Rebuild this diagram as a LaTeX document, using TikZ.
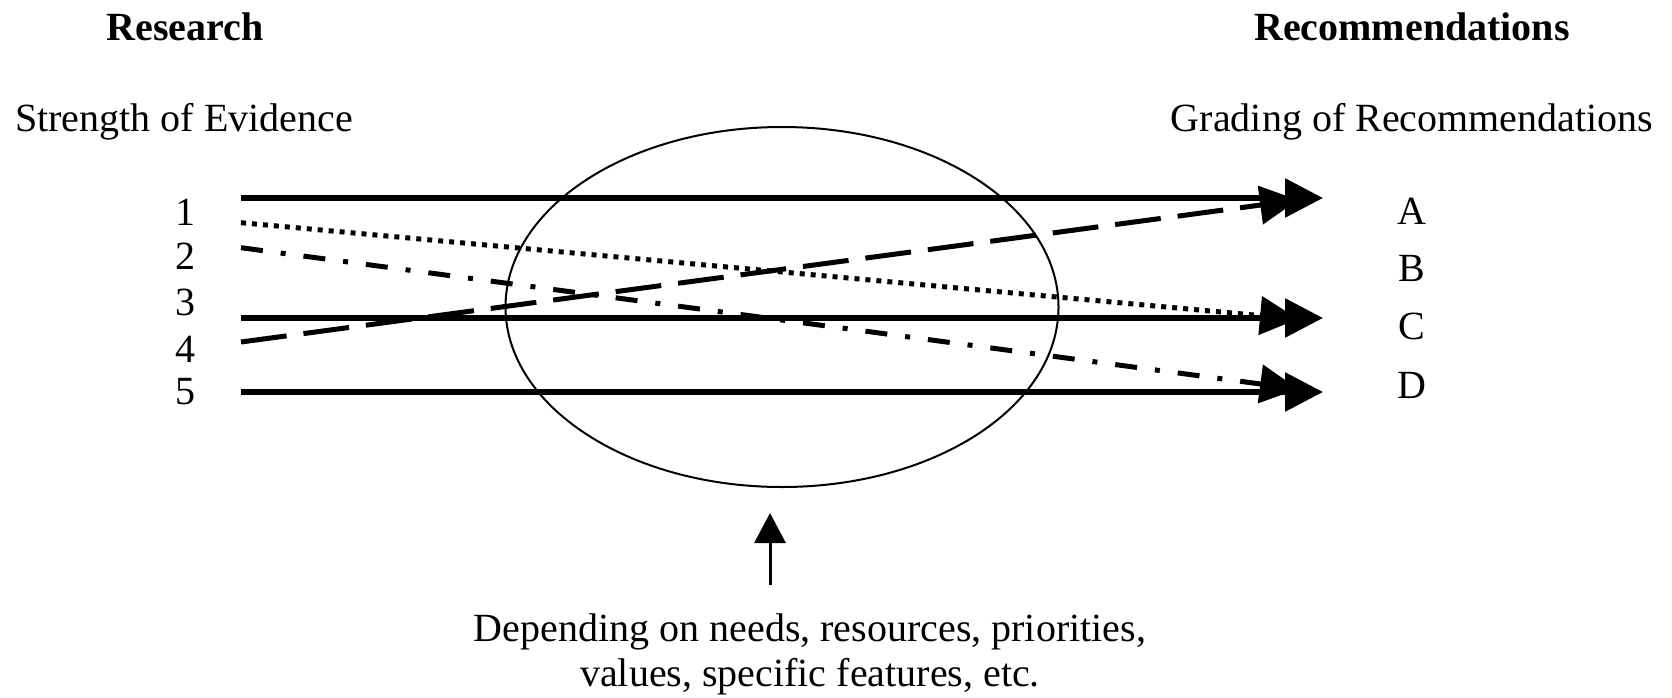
\documentclass[tikz,border=0pt]{standalone}
\usepackage{fontspec}
\setmainfont{Liberation Serif}
\usetikzlibrary{arrows.meta,shapes.geometric}
\tikzset{
  lbl/.style={font=\fontsize{40}{44.6}\selectfont, inner sep=0pt, anchor=base},
  hdr/.style={font=\fontsize{40}{45}\selectfont\bfseries, inner sep=0pt, anchor=base},
  solidarr/.style={line width=6pt, -{Triangle[length=38pt,width=38pt]}},
  dashedarr/.style={line width=5pt, dash pattern=on 46pt off 17pt, -{Triangle[length=38pt,width=38pt]}},
  dottedarr/.style={line width=5pt, dash pattern=on 5pt off 6pt, -{Triangle[length=38pt,width=38pt]}},
  dashdotarr/.style={line width=5pt, dash pattern=on 22pt off 18pt on 5pt off 18pt, -{Triangle[length=38pt,width=38pt]}},
}
\begin{document}
\begin{tikzpicture}[x=1pt,y=-1pt]
\useasboundingbox (0,0) rectangle (1672,698);
% headers
\node[hdr] (research) at (185,41) {Research};
\node[hdr] (recs) at (1412,41) {Recommendations};
\node[lbl] (strength) at (184,131.5) {Strength of Evidence};
\node[lbl] (grading) at (1412,131.5) {Grading of Recommendations};
% numbers
\node[lbl] (n1) at (185,225) {1};
\node[lbl] (n2) at (185,269.5) {2};
\node[lbl] (n3) at (185,315) {3};
\node[lbl] (n4) at (185,362) {4};
\node[lbl] (n5) at (185,404) {5};
% letters
\node[lbl] (gA) at (1412,224.5) {A};
\node[lbl] (gB) at (1412,281.5) {B};
\node[lbl] (gC) at (1412,339.5) {C};
\node[lbl] (gD) at (1412,398) {D};
% ellipse
\node[draw, line width=2pt, ellipse, minimum width=553pt, minimum height=360pt, inner sep=0pt] (ell) at (782,307) {};
% start and end points
\coordinate (s1) at (241,198);
\coordinate (s2d) at (241,222.7);
\coordinate (s2) at (241,247.7);
\coordinate (s3) at (241,318);
\coordinate (s4) at (241,342);
\coordinate (s5) at (241,392);
\coordinate (eA) at (1323,198);
\coordinate (eAs) at (1298,200);
\coordinate (eC) at (1323,318);
\coordinate (eCs) at (1298,319);
\coordinate (eD) at (1323,392);
\coordinate (eDs) at (1298,389);
% connectors
\draw[solidarr] (s1) -- (eA);
\draw[solidarr] (s3) -- (eC);
\draw[solidarr] (s5) -- (eD);
\draw[dottedarr] (s2d) -- (eCs);
\draw[dashdotarr] (s2) -- (eDs);
\draw[dashedarr] (s4) -- (eAs);
% bottom text and arrow
\node[lbl, align=center, anchor=base] (note) at (810,686) {Depending on needs, resources, priorities,\\values, specific features, etc.};
\coordinate (upbot) at (770,585);
\coordinate (uptop) at (770,513);
\draw[line width=3pt, -{Triangle[length=30pt,width=31pt]}] (upbot) -- (uptop);
\end{tikzpicture}
\end{document}
